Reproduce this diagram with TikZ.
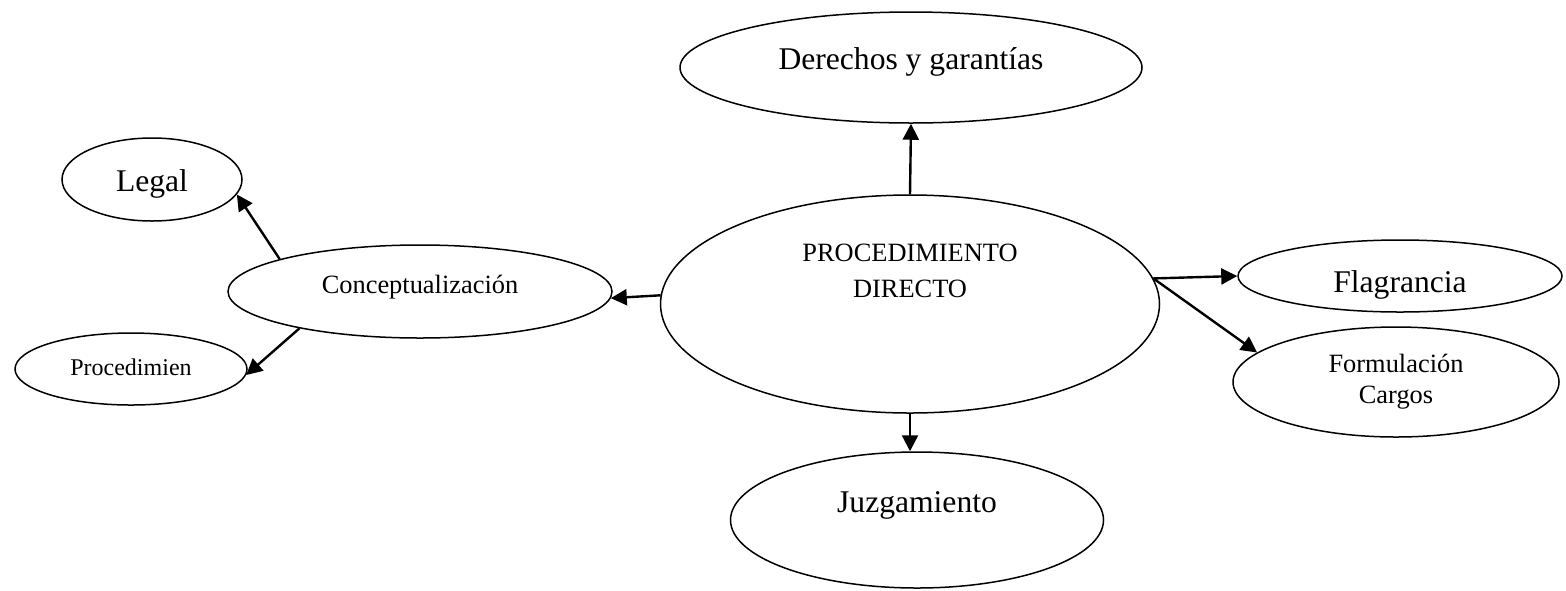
\documentclass[tikz,border=0pt]{standalone}
\usepackage{fontspec}
\setmainfont{Liberation Serif}
\usetikzlibrary{shapes.geometric,arrows.meta}
\tikzset{
  bubble/.style={draw, ellipse, inner sep=0pt, line width=0.75pt},
  big/.style={font=\fontsize{15.8}{19}\selectfont},
  mid/.style={font=\fontsize{13.2}{16}\selectfont},
  link/.style={-{Triangle[length=8pt,width=8pt]}, line width=1.2pt}
}
\begin{document}
\begin{tikzpicture}[x=0.5pt, y=-0.5pt]
    \useasboundingbox (0,0) rectangle (1566,590);

    \node[bubble, mid, align=center, font=\fontsize{13.2}{18}\selectfont,
          minimum width=249.5pt, minimum height=109pt] (pd) at (910,304)
          {PROCEDIMIENTO\\DIRECTO\rule[-33pt]{0pt}{33pt}};

    \node[bubble, big, minimum width=231pt, minimum height=55.5pt,
          text height=10.4pt, text depth=8pt] (der) at (911,67.5) {Derechos y garantías};
    \node[bubble, big, minimum width=186.5pt, minimum height=68pt,
          text height=10.4pt, text depth=18pt] (juz) at (917,520) {Juzgamiento};
    \node[bubble, mid, minimum width=192pt, minimum height=46.5pt,
          text height=8.7pt, text depth=6.4pt] (con) at (420,291.5) {Conceptualización};
    \node[bubble, big, minimum width=90pt, minimum height=41.5pt,
          text height=12.4pt, text depth=0pt] (leg) at (152,179.5) {Legal};
    \node[bubble, font=\fontsize{12}{14}\selectfont, minimum width=116pt, minimum height=36pt,
          text height=7.9pt, text depth=1.5pt] (pro) at (131,369) {Procedimien};
    \node[bubble, big, minimum width=162pt, minimum height=36pt,
          text height=16.4pt, text depth=0pt] (fla) at (1400,276) {Flagrancia};
    \node[bubble, align=center, font=\fontsize{13.2}{15.5}\selectfont,
          minimum width=163pt, minimum height=55pt] (for) at (1396,382) {Formulación\\Cargos};

    \draw[link] (pd.north) -- (der.south);
    \draw[link] (pd.south) -- (pd.south |- juz.north);
    \draw[link] (pd.178) -- (con.-2);
    \draw[link] (con.167) -- (leg.-10);
    \draw[link] (con.197) -- (pro.-3);
    \draw[link] (pd.6) -- (fla.west);
    \draw[link] (pd.6) -- (for.168);
\end{tikzpicture}
\end{document}
